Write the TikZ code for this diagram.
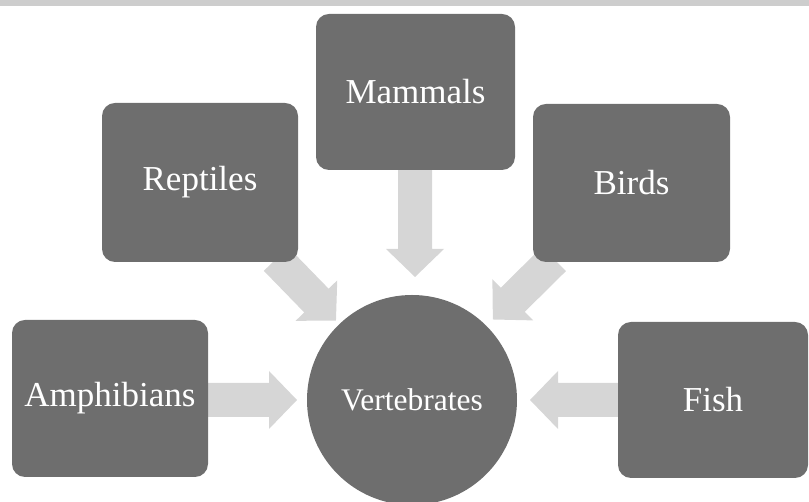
\documentclass[tikz,border=0pt]{standalone}
\usepackage{fontspec}
\setmainfont{Liberation Serif}
\definecolor{boxgray}{HTML}{6E6E6E}
\definecolor{arrowgray}{HTML}{D6D6D6}
\definecolor{bandgray}{HTML}{CDCDCD}
\tikzset{
  catbox/.style={draw=none, fill=boxgray, rounded corners=13pt, inner sep=0pt,
    text=white, font=\fontsize{35}{38}\selectfont},
  hubnode/.style={circle, draw=none, fill=boxgray, inner sep=0pt, minimum size=210pt,
    text=white, font=\fontsize{31.5}{34}\selectfont},
  blockarrow/.style={draw=none, fill=arrowgray}
}
% block arrow: start point, angle, length
\newcommand{\myblockarrow}[3]{%
  \fill[blockarrow, shift={#1}, rotate=#2]
    (0,-17) -- ({#3-28},-17) -- ({#3-28},-29) -- (#3,0) -- ({#3-28},29)
    -- ({#3-28},17) -- (0,17) -- cycle;}
\begin{document}
\begin{tikzpicture}[x=1pt,y=1pt]
\useasboundingbox (0,0) rectangle (809,502);
\fill[bandgray] (0,496) rectangle (809,502);

% arrows (drawn below the shapes)
\coordinate (amStart) at (415,333);
\coordinate (reStart) at (276,243);
\coordinate (biStart) at (554,243);
\coordinate (apStart) at (207,102);
\coordinate (fiStart) at (619,102);
\myblockarrow{(amStart)}{-90}{108}
\myblockarrow{(reStart)}{-45.8}{86}
\myblockarrow{(biStart)}{-135.3}{86}
\myblockarrow{(apStart)}{0}{90}
\myblockarrow{(fiStart)}{180}{89}

% shapes
\node[catbox, minimum width=199pt, minimum height=156pt] (mam) at (415.5,410) {Mammals};
\node[catbox, minimum width=196pt, minimum height=159pt] (rep) at (200,319.5) {Reptiles};
\node[catbox, minimum width=197pt, minimum height=158pt] (bir) at (631.5,319) {Birds};
\node[catbox, minimum width=196pt, minimum height=157pt] (amp) at (110,103.5) {Amphibians};
\node[catbox, minimum width=190pt, minimum height=156pt] (fis) at (713,102) {Fish};
\node[hubnode] (ver) at (412,102) {Vertebrates};
\end{tikzpicture}
\end{document}
